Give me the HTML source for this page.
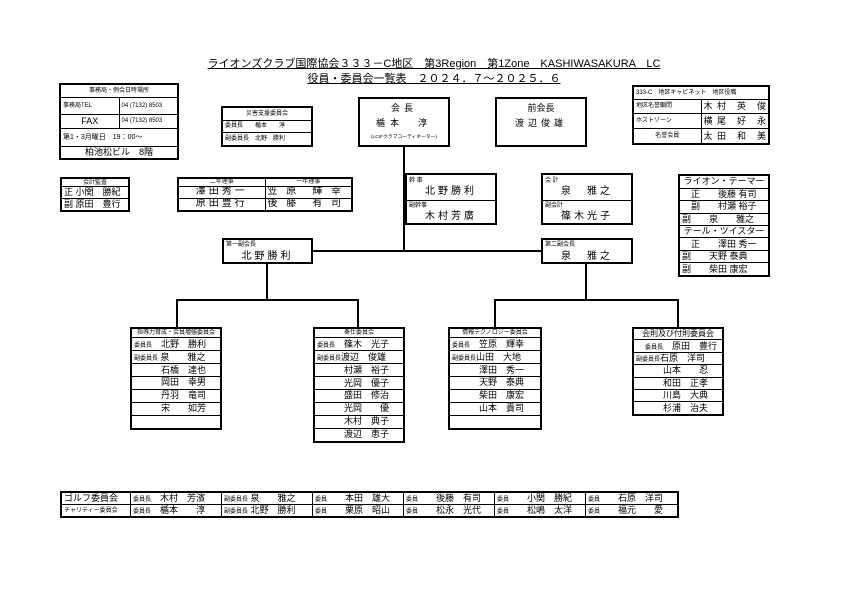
<!DOCTYPE html>
<html><head><meta charset="utf-8"><style>
body{margin:0;width:842px;height:595px;background:#fff;position:relative;overflow:hidden;font-family:"Liberation Sans","Noto Sans CJK JP",sans-serif;color:#000}
.a{position:absolute}
table{position:absolute;border-collapse:collapse;border:2px solid #000;table-layout:fixed}
td{border:1px solid #000;padding:0 2px;white-space:nowrap;overflow:hidden;line-height:1}
.s{font-size:6px}.m{font-size:9px}.l{font-size:10px;letter-spacing:3px}
.c{text-align:center}
.ln{position:absolute;background:#000}
.box{position:absolute;border:2px solid #000;box-sizing:border-box;text-align:center}
.box div{line-height:1}
</style></head><body>
<div class="a" style="left:188px;top:55px;width:492px;text-align:center;font-size:11px;text-decoration:underline;white-space:nowrap">ライオンズクラブ国際協会３３３－C地区　第3Region　第1Zone　KASHIWASAKURA　LC</div>
<div class="a" style="left:188px;top:70px;width:492px;text-align:center;font-size:11px;text-decoration:underline;white-space:nowrap">役員・委員会一覧表　２０２４．７～２０２５．６</div>

<table style="left:59px;top:83px;width:120px;height:76px">
<tr style="height:13px"><td colspan="2" class="s c">事務局・例会日時場所</td></tr>
<tr style="height:17px"><td class="s" style="width:30px">事務局TEL</td><td class="s">04 (7132) 8503</td></tr>
<tr style="height:14px"><td class="m c">FAX</td><td class="s">04 (7132) 8503</td></tr>
<tr style="height:18px"><td colspan="2" class="s" style="font-size:7px">第1・3月曜日　19：00～</td></tr>
<tr style="height:13px"><td colspan="2" class="m c">柏池松ビル　8階</td></tr>
</table>

<table style="left:221px;top:106px;width:92px;height:41px">
<tr><td class="s c">災害支援委員会</td></tr>
<tr><td class="s">委員長　　楯本　　淳</td></tr>
<tr><td class="s">副委員長　北野　勝利</td></tr>
</table>

<table style="left:60px;top:177px;width:70px;height:35px">
<tr><td class="s c">会計監査</td></tr>
<tr><td class="m">正 小関　勝紀</td></tr>
<tr><td class="m">副 原田　豊行</td></tr>
</table>

<table style="left:177px;top:177px;width:176px;height:35px">
<tr><td class="s c">二年理事</td><td class="s c">一年理事</td></tr>
<tr><td class="l c">澤田秀一</td><td class="l">笠 原　輝 幸</td></tr>
<tr><td class="l c">原田豊行</td><td class="l">後 藤　有 司</td></tr>
</table>

<div class="box" style="left:358px;top:97px;width:92px;height:50px">
<div class="m" style="margin-top:5px;letter-spacing:4px">会長</div>
<div class="m" style="margin-top:6px;letter-spacing:5px">楯本　淳</div>
<div style="position:absolute;left:0;right:0;top:35px;font-size:6px;white-space:nowrap;transform:scale(0.8);transform-origin:center">(LCIFクラブコーディネーター)</div></div>
<div class="box" style="left:495px;top:97px;width:92px;height:50px">
<div class="m" style="margin-top:5px">前会長</div>
<div class="m" style="margin-top:6px;letter-spacing:4px">渡辺俊雄</div></div>

<table style="left:632px;top:85px;width:138px;height:60px">
<tr style="height:13px"><td colspan="2" class="s">333-C　地区キャビネット　地区役職</td></tr>
<tr><td class="s" style="width:40px">地区名誉顧問</td><td class="m" style="letter-spacing:1px">木 村　英　俊</td></tr>
<tr><td class="s">ホストゾーン</td><td class="m" style="letter-spacing:1px">横 尾　好　永</td></tr>
<tr><td class="s c">名誉会員</td><td class="m" style="letter-spacing:1px">太 田　和　美</td></tr>
</table>

<table style="left:405px;top:173px;width:92px;height:52px">
<tr><td style="height:25px"><div class="s">幹 事</div><div class="l c" style="margin-top:3px">北野勝利</div></td></tr>
<tr><td><div class="s">副幹事</div><div class="l c" style="margin-top:3px">木村芳廣</div></td></tr>
</table>
<table style="left:541px;top:173px;width:92px;height:52px">
<tr><td style="height:25px"><div class="s">会 計</div><div class="l c" style="margin-top:3px">泉　雅之</div></td></tr>
<tr><td><div class="s">副会計</div><div class="l c" style="margin-top:3px">篠木光子</div></td></tr>
</table>

<table style="left:678px;top:174px;width:92px;height:103px;font-size:9px">
<tr><td class="m c">ライオン・テーマー</td></tr>
<tr><td class="m">　正　　後藤 有司</td></tr>
<tr><td class="m">　副　　村瀬 裕子</td></tr>
<tr><td class="m">副　　泉　　雅之</td></tr>
<tr><td class="m c">テール・ツイスター</td></tr>
<tr><td class="m">　正　　澤田 秀一</td></tr>
<tr><td class="m">副　　天野 泰典</td></tr>
<tr><td class="m">副　　柴田 康宏</td></tr>
</table>

<div class="box" style="left:222px;top:238px;width:91px;height:26px;text-align:left">
<div class="s" style="margin:2px">第一副会長</div><div class="l c" style="margin-top:4px">北野勝利</div></div>
<div class="box" style="left:541px;top:238px;width:92px;height:26px;text-align:left">
<div class="s" style="margin:2px">第二副会長</div><div class="l c" style="margin-top:4px">泉　雅之</div></div>

<div class="ln" style="left:403px;top:147px;width:2px;height:105px"></div>
<div class="ln" style="left:313px;top:250px;width:228px;height:2px"></div>
<div class="ln" style="left:266px;top:264px;width:2px;height:37px"></div>
<div class="ln" style="left:176px;top:299px;width:183px;height:2px"></div>
<div class="ln" style="left:176px;top:299px;width:2px;height:28px"></div>
<div class="ln" style="left:357px;top:299px;width:2px;height:28px"></div>
<div class="ln" style="left:585px;top:264px;width:2px;height:37px"></div>
<div class="ln" style="left:494px;top:299px;width:185px;height:2px"></div>
<div class="ln" style="left:494px;top:299px;width:2px;height:28px"></div>
<div class="ln" style="left:677px;top:299px;width:2px;height:28px"></div>

<table style="left:130px;top:327px;width:92px;height:103px">
<tr><td class="s c">指導力育成・会員増強委員会</td></tr>
<tr><td class="m"><span class="s">委員長</span>　北野　勝利</td></tr>
<tr><td class="m"><span class="s">副委員長</span> 泉　　雅之</td></tr>
<tr><td class="m">　　　石橋　達也</td></tr>
<tr><td class="m">　　　岡田　幸男</td></tr>
<tr><td class="m">　　　丹羽　竜司</td></tr>
<tr><td class="m">　　　宋　　如芳</td></tr>
<tr><td class="m">&nbsp;</td></tr>
</table>
<table style="left:313px;top:327px;width:92px;height:116px">
<tr><td class="s c">奉仕委員会</td></tr>
<tr><td class="m"><span class="s">委員長</span>　篠木　光子</td></tr>
<tr><td class="m"><span class="s">副委員長</span>渡辺　俊雄</td></tr>
<tr><td class="m">　　　村瀬　裕子</td></tr>
<tr><td class="m">　　　光岡　優子</td></tr>
<tr><td class="m">　　　盛田　修治</td></tr>
<tr><td class="m">　　　光岡　　優</td></tr>
<tr><td class="m">　　　木村　典子</td></tr>
<tr><td class="m">　　　渡辺　恵子</td></tr>
</table>
<table style="left:448px;top:327px;width:94px;height:103px">
<tr><td class="s c">情報テクノロジー委員会</td></tr>
<tr><td class="m"><span class="s">委員長</span>　笠原　輝幸</td></tr>
<tr><td class="m"><span class="s">副委員長</span>山田　大地</td></tr>
<tr><td class="m">　　　澤田　秀一</td></tr>
<tr><td class="m">　　　天野　泰典</td></tr>
<tr><td class="m">　　　柴田　康宏</td></tr>
<tr><td class="m">　　　山本　貴司</td></tr>
<tr><td class="m">&nbsp;</td></tr>
</table>
<table style="left:632px;top:327px;width:92px;height:89px">
<tr><td class="m c" style="font-size:8px">会則及び付則委員会</td></tr>
<tr><td class="m">　<span class="s">委員長</span>　原田　豊行</td></tr>
<tr><td class="m"><span class="s">副委員長</span>石原　洋司</td></tr>
<tr><td class="m">　　　山本　　忍</td></tr>
<tr><td class="m">　　　和田　正孝</td></tr>
<tr><td class="m">　　　川島　大典</td></tr>
<tr><td class="m">　　　杉浦　治夫</td></tr>
</table>

<table style="left:60px;top:491px;width:619px;height:27px">
<tr><td class="m" style="width:64px">ゴルフ委員会</td><td class="m" style="width:86px"><span class="s">委員長</span>　木村　芳濱</td><td class="m" style="width:86px"><span class="s">副委員長</span> 泉　　雅之</td><td class="m" style="width:86px"><span class="s">委員</span>　　本田　雄大</td><td class="m" style="width:86px"><span class="s">委員</span>　　後藤　有司</td><td class="m" style="width:86px"><span class="s">委員</span>　　小関　勝紀</td><td class="m"><span class="s">委員</span>　　石原　洋司</td></tr>
<tr><td class="s">チャリティー委員会</td><td class="m"><span class="s">委員長</span>　楯本　　淳</td><td class="m"><span class="s">副委員長</span> 北野　勝利</td><td class="m"><span class="s">委員</span>　　栗原　昭山</td><td class="m"><span class="s">委員</span>　　松永　光代</td><td class="m"><span class="s">委員</span>　　松嶋　太洋</td><td class="m"><span class="s">委員</span>　　福元　　愛</td></tr>
</table>
</body></html>
